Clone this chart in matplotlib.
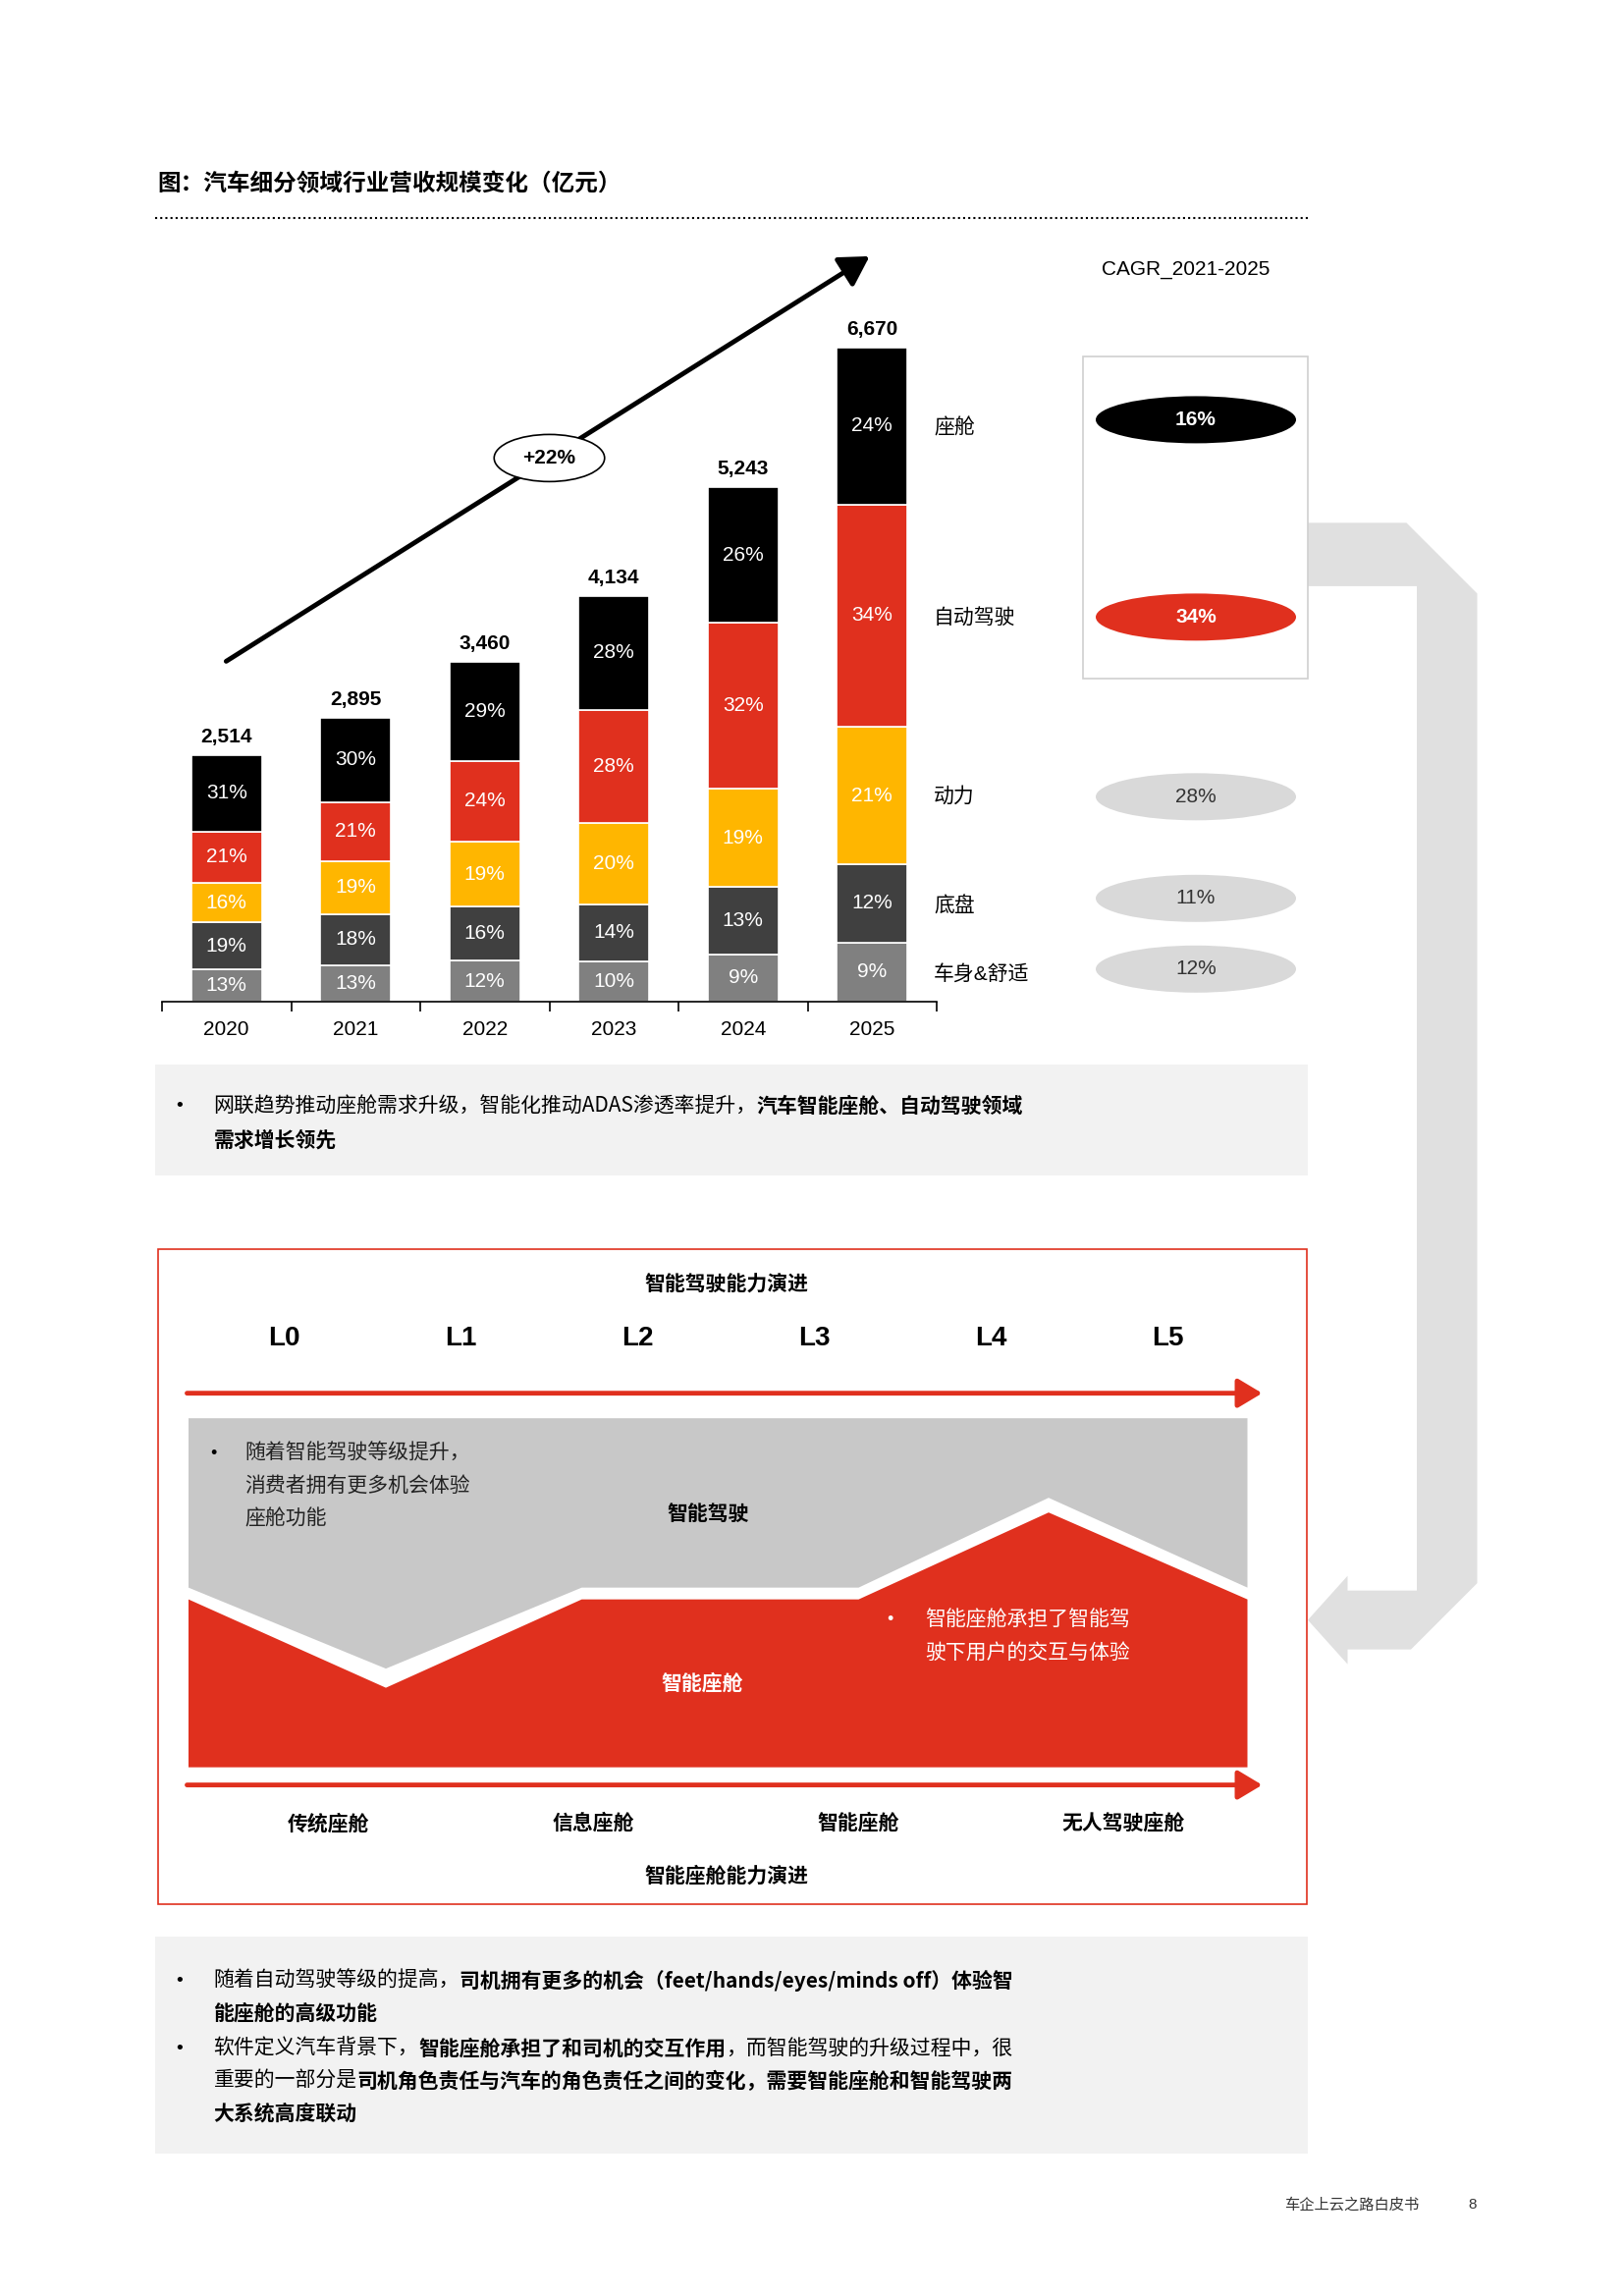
import matplotlib
matplotlib.use("Agg")
import matplotlib.pyplot as plt
from matplotlib.patches import Polygon, Ellipse, Rectangle, FancyArrowPatch
import numpy as np

years = ["2020", "2021", "2022", "2023", "2024", "2025"]
totals = [2514, 2895, 3460, 4134, 5243, 6670]
seg_names = ["车身&舒适", "底盘", "动力", "自动驾驶", "座舱"]
seg_colors = ["#808080", "#404040", "#FFB600", "#E0301E", "#000000"]
pct = {
    "车身&舒适": [13, 13, 12, 10, 9, 9],
    "底盘": [19, 18, 16, 14, 13, 12],
    "动力": [16, 19, 19, 20, 19, 21],
    "自动驾驶": [21, 21, 24, 28, 32, 34],
    "座舱": [31, 30, 29, 28, 26, 24],
}
cagr = {"座舱": "16%", "自动驾驶": "34%", "动力": "28%", "底盘": "11%", "车身&舒适": "12%"}
cagr_y = {"座舱": 285, "自动驾驶": 419, "动力": 541, "底盘": 610, "车身&舒适": 658}
label_y = {"座舱": 290, "自动驾驶": 419, "动力": 541, "底盘": 615, "车身&舒适": 661}
levels = ["L0", "L1", "L2", "L3", "L4", "L5"]
cabins = ["传统座舱", "信息座舱", "智能座舱", "无人驾驶座舱"]

FF = ["Liberation Sans", "Noto Sans CJK SC"]
CJ = ["Noto Sans CJK SC"]
W, H = 1102, 1559
fig = plt.figure(figsize=(16.53, 23.38), dpi=100)
ov = fig.add_axes([0, 0, 1, 1], zorder=0)
ov.set_xlim(0, W); ov.set_ylim(H, 0); ov.axis("off")

def T(x, y, s, size=16, bold=False, color="black", ha="center", va="center", fam=FF):
    return ov.text(x, y, s, fontsize=size, fontweight="bold" if bold else "normal",
                   color=color, ha=ha, va=va, family=fam)

# title
T(107, 125, "图：汽车细分领域行业营收规模变化（亿元）", 17, True, ha="left", fam=CJ)
ov.plot([105, 888], [148, 148], ls=(0, (1, 1.5)), color="black", lw=1.5)

# chart axes
y0, ytop = 680, 170
vmax = (y0 - ytop) / 444 * 6670
ax = fig.add_axes([110 / W, 1 - y0 / H, (636 - 110) / W, (y0 - ytop) / H], zorder=2)
ax.patch.set_alpha(0)
x = np.arange(len(years))
ax.set_xlim(-0.5, len(years) - 0.5); ax.set_ylim(0, vmax)
sums = np.array([sum(pct[n][i] for n in seg_names) for i in range(len(years))])
bottom = np.zeros(len(years))
for n, c in zip(seg_names, seg_colors):
    h = np.array(pct[n]) / sums * np.array(totals)
    ax.bar(x, h, bottom=bottom, width=0.545, color=c, edgecolor="white", lw=1.2)
    for i in range(len(years)):
        ax.text(x[i], bottom[i] + h[i] / 2, f"{pct[n][i]}%", ha="center", va="center",
                color="white", fontsize=15, family=FF)
    bottom += h
for i in range(len(years)):
    ax.text(x[i], totals[i] + 90, f"{totals[i]:,}", ha="center", va="bottom",
            fontsize=15, fontweight="bold", family=FF)
for s in ["top", "right", "left"]:
    ax.spines[s].set_visible(False)
ax.set_yticks([])
ax.set_xticks(x); ax.set_xticklabels(years, fontsize=15, family=FF)
ax.set_xticks(np.arange(-0.5, len(years)), minor=True)
ax.tick_params(axis="x", which="major", length=0, pad=14)
ax.tick_params(axis="x", which="minor", length=7, width=1.2)
ax.spines["bottom"].set_linewidth(1.2)

# growth arrow
ov.add_patch(FancyArrowPatch((152, 450), (592, 173), arrowstyle="-|>,head_length=12,head_width=7",
                             mutation_scale=1.5, color="black", lw=3.5))
ov.add_patch(Ellipse((373, 311), 75, 32, fc="white", ec="black", lw=1.2, zorder=3))
T(373, 311, "+22%", 15, True).set_zorder(4)

T(805, 183, "CAGR_2021-2025", 15)
ov.add_patch(Rectangle((735, 242), 153, 219, fc="white", ec="#D0D0D0", lw=1.2, zorder=2))
# big bracket arrow
pts = [(888, 355), (955, 355), (1003, 403), (1003, 1075), (958, 1120), (915, 1120), (915, 1130),
       (888, 1100), (915, 1070), (915, 1080), (962, 1080), (962, 398), (888, 398)]
ov.add_patch(Polygon(pts, closed=True, fc="#E0E0E0", ec="none", zorder=1))
for n in seg_names:
    fc = {"座舱": "black", "自动驾驶": "#E0301E"}.get(n, "#D9D9D9")
    tc = "white" if n in ("座舱", "自动驾驶") else "#333333"
    ov.add_patch(Ellipse((812, cagr_y[n]), 136, 32, fc=fc, ec="none", zorder=3))
    T(812, cagr_y[n], cagr[n], 15, n in ("座舱", "自动驾驶"), tc).set_zorder(4)
    T(634, label_y[n], n, 15, ha="left")

def runs(x0, y, parts, size=15):
    r = fig.canvas.get_renderer()
    xx = x0
    for s, b in parts:
        t = T(xx, y, s, size, b, ha="left", fam=CJ)
        xx += t.get_window_extent(r).width / 1.5

ov.add_patch(Rectangle((105, 723), 783, 75, fc="#F2F2F2", ec="none"))
T(122, 751, "•", 14)
runs(145, 751, [("网联趋势推动座舱需求升级，智能化推动ADAS渗透率提升，", False), ("汽车智能座舱、自动驾驶领域", True)])
runs(145, 774, [("需求增长领先", True)])

# red box
ov.add_patch(Rectangle((107, 848), 780, 445, fc="white", ec="#E0301E", lw=1.2))
T(493, 872, "智能驾驶能力演进", 15, True, fam=CJ)
for i, l in enumerate(levels):
    T(193 + 120 * i, 909, l, 20, True)
for yy in (946, 1212):
    ov.add_patch(FancyArrowPatch((127, yy), (857, yy), arrowstyle="-|>,head_length=10,head_width=6",
                                 mutation_scale=1.5, color="#E0301E", lw=3.5, shrinkA=0, shrinkB=0))
gray = [(128, 963), (847, 963), (847, 1078), (712, 1017), (583, 1078), (395, 1078), (262, 1133), (128, 1078)]
ov.add_patch(Polygon(gray, closed=True, fc="#C8C8C8", ec="none"))
red = [(128, 1086), (262, 1146), (395, 1086), (583, 1086), (712, 1027), (847, 1086), (847, 1200), (128, 1200)]
ov.add_patch(Polygon(red, closed=True, fc="#E0301E", ec="none"))
T(145, 987, "•", 13)
for j, s in enumerate(["随着智能驾驶等级提升，", "消费者拥有更多机会体验", "座舱功能"]):
    T(166, 987 + 22 * j, s, 15, ha="left", color="#222222", fam=CJ)
T(481, 1028, "智能驾驶", 15, True, fam=CJ)
T(604, 1100, "•", 13, color="white")
T(628, 1100, "智能座舱承担了智能驾", 15, ha="left", color="white", fam=CJ)
T(628, 1122, "驶下用户的交互与体验", 15, ha="left", color="white", fam=CJ)
T(477, 1143, "智能座舱", 15, True, "white", fam=CJ)
for i, c in enumerate(cabins):
    T(223 + 180 * i, 1238, c, 15, True, fam=CJ)
T(493, 1274, "智能座舱能力演进", 15, True, fam=CJ)

# bottom box
ov.add_patch(Rectangle((105, 1315), 783, 147, fc="#F2F2F2", ec="none"))
T(122, 1345, "•", 14)
runs(145, 1345, [("随着自动驾驶等级的提高，", False), ("司机拥有更多的机会（feet/hands/eyes/minds off）体验智", True)])
runs(145, 1367, [("能座舱的高级功能", True)])
T(122, 1391, "•", 14)
runs(145, 1391, [("软件定义汽车背景下，", False), ("智能座舱承担了和司机的交互作用", True), ("，而智能驾驶的升级过程中，很", False)])
runs(145, 1413, [("重要的一部分是", False), ("司机角色责任与汽车的角色责任之间的变化，需要智能座舱和智能驾驶两", True)])
runs(145, 1435, [("大系统高度联动", True)])

T(918, 1497, "车企上云之路白皮书", 11, fam=CJ, color="#333333")
T(1000, 1497, "8", 11, color="#333333")

fig.savefig("out.png", dpi=100)
